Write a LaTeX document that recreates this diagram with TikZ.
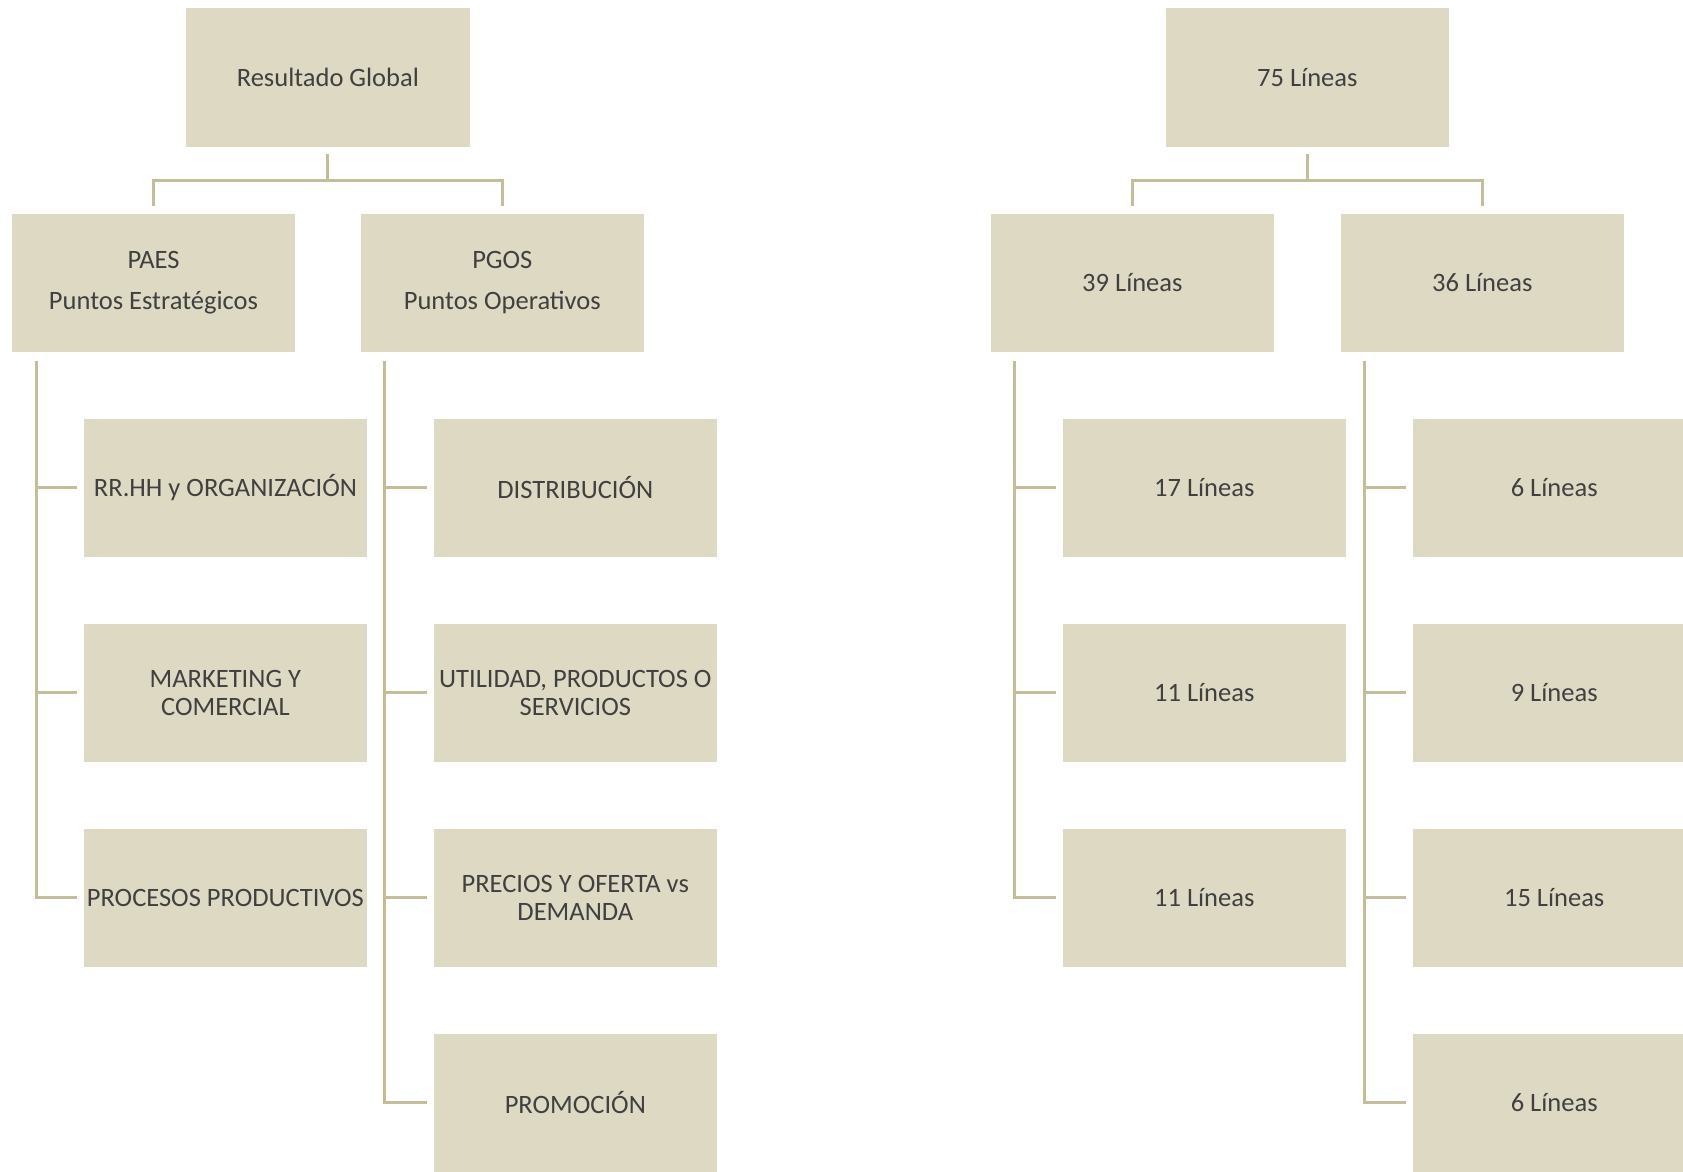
\documentclass[tikz,border=0pt]{standalone}
\usepackage{fontspec}
\setmainfont{Carlito}
\definecolor{boxfill}{HTML}{DDD9C3}
\definecolor{linecol}{HTML}{C4BD97}
\definecolor{txtcol}{HTML}{404040}
\begin{document}
\begin{tikzpicture}[x=1pt, y=-1pt, line width=2.8pt,
  main box/.style={rectangle, fill=boxfill, minimum width=264pt, minimum height=129pt,
    inner sep=0pt, align=center, text=txtcol, font=\fontsize{24.7}{26.5}\selectfont},
  conn/.style={draw=linecol}]
\useasboundingbox (0,0) rectangle (1568,1091);
\clip (0,0) rectangle (1568,1091);
% left tree
\begin{scope}
\node[main box] (rg) at (305.5,72) {Resultado Global};
\node[main box] (paes) at (143,263.5) {PAES\\[11.5pt]Puntos Estratégicos};
\node[main box] (pgos) at (468,263.5) {PGOS\\[11.5pt]Puntos Operativos};
\node[main box] (rrhh) at (210,454.5) {RR.HH y ORGANIZACIÓN};
\node[main box] (mkt) at (210,645.5) {MARKETING Y\\COMERCIAL};
\node[main box] (proc) at (210,836.5) {PROCESOS PRODUCTIVOS};
\node[main box] (dist) at (536,454.5) {DISTRIBUCIÓN};
\node[main box] (util) at (536,645.5) {UTILIDAD, PRODUCTOS O\\SERVICIOS};
\node[main box] (prec) at (536,836.5) {PRECIOS Y OFERTA vs\\DEMANDA};
\node[main box] (prom) at (536,1027.5) {PROMOCIÓN};
\end{scope}
% right tree
\begin{scope}
\node[main box] (l75) at (1218,72) {75 Líneas};
\node[main box] (l39) at (1055,263.5) {39 Líneas};
\node[main box] (l36) at (1381,263.5) {36 Líneas};
\node[main box] (l17) at (1122,454.5) {17 Líneas};
\node[main box] (l11a) at (1122,645.5) {11 Líneas};
\node[main box] (l11b) at (1122,836.5) {11 Líneas};
\node[main box] (l6a) at (1448,454.5) {6 Líneas};
\node[main box] (l9) at (1448,645.5) {9 Líneas};
\node[main box] (l15) at (1448,836.5) {15 Líneas};
\node[main box] (l6b) at (1448,1027.5) {6 Líneas};
\end{scope}
\begin{scope}[conn]
\draw ([yshift=-6pt]rg.south) -- ++(0,-24pt) -| ([yshift=6pt]paes.north);
\draw ([yshift=-6pt]rg.south) -- ++(0,-24pt) -| ([yshift=6pt]pgos.north);
\draw ([xshift=24pt,yshift=-7pt]paes.south west) |- ([xshift=-5pt]rrhh.west);
\draw ([xshift=24pt,yshift=-7pt]paes.south west) |- ([xshift=-5pt]mkt.west);
\draw ([xshift=24pt,yshift=-7pt]paes.south west) |- ([xshift=-5pt]proc.west);
\draw ([xshift=24pt,yshift=-7pt]pgos.south west) |- ([xshift=-5pt]dist.west);
\draw ([xshift=24pt,yshift=-7pt]pgos.south west) |- ([xshift=-5pt]util.west);
\draw ([xshift=24pt,yshift=-7pt]pgos.south west) |- ([xshift=-5pt]prec.west);
\draw ([xshift=24pt,yshift=-7pt]pgos.south west) |- ([xshift=-5pt]prom.west);
\draw ([yshift=-6pt]l75.south) -- ++(0,-24pt) -| ([yshift=6pt]l39.north);
\draw ([yshift=-6pt]l75.south) -- ++(0,-24pt) -| ([yshift=6pt]l36.north);
\draw ([xshift=24pt,yshift=-7pt]l39.south west) |- ([xshift=-5pt]l17.west);
\draw ([xshift=24pt,yshift=-7pt]l39.south west) |- ([xshift=-5pt]l11a.west);
\draw ([xshift=24pt,yshift=-7pt]l39.south west) |- ([xshift=-5pt]l11b.west);
\draw ([xshift=24pt,yshift=-7pt]l36.south west) |- ([xshift=-5pt]l6a.west);
\draw ([xshift=24pt,yshift=-7pt]l36.south west) |- ([xshift=-5pt]l9.west);
\draw ([xshift=24pt,yshift=-7pt]l36.south west) |- ([xshift=-5pt]l15.west);
\draw ([xshift=24pt,yshift=-7pt]l36.south west) |- ([xshift=-5pt]l6b.west);
\end{scope}
\end{tikzpicture}
\end{document}
